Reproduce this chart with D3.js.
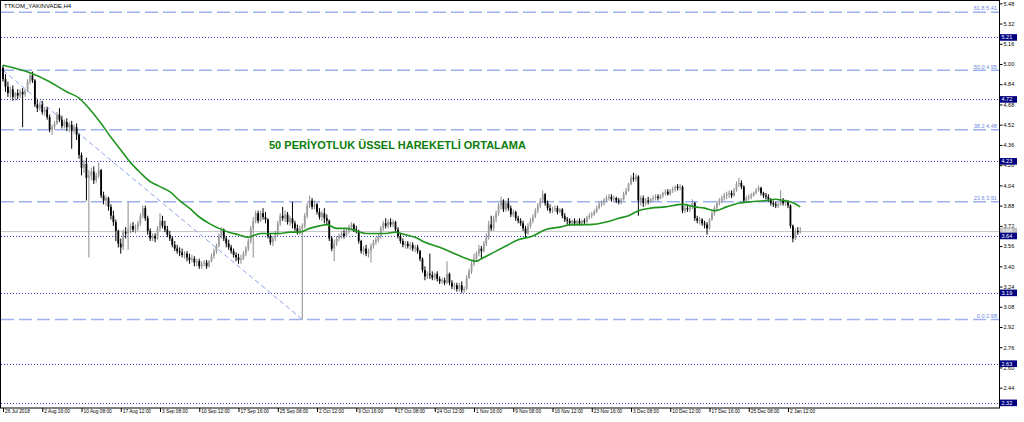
<!DOCTYPE html>
<html><head><meta charset="utf-8">
<script src="https://cdn.jsdelivr.net/npm/d3@7"></script>
<style>html,body{margin:0;padding:0;background:#fff;}svg{display:block;}</style>
</head><body>
<svg id="c" width="1024" height="422"></svg>
<script>
// ---------------- DATA (prices in kuruş, i.e. TRY x 100) ----------------
const symbolTitle = "TTKOM_YAKINVADE,H4";
const annotation = "50 PERİYOTLUK ÜSSEL HAREKETLİ ORTALAMA";

const opens = [
497,488,482,477,480,474,477,475,478,476, 479,486,491,487,468,465,468,462,464,458,
448,450,453,460,456,451,454,450,452,447, 450,444,428,418,421,410,412,415,408,412,
416,396,392,394,387,380,375,368,358,355, 367,366,369,372,369,371,374,380,386,378,
368,362,364,362,370,376,372,369,365,362, 357,354,352,351,349,350,347,345,346,343,
344,340,342,343,340,344,348,352,356,364, 369,362,358,355,352,349,347,345,346,350,
354,360,370,376,382,376,382,379,377,364, 359,362,366,374,380,378,381,375,378,374,
370,367,370,372,380,388,392,387,389,383, 379,382,378,376,362,354,358,362,364,366,
364,368,371,373,369,368,360,352,354,350, 352,356,359,361,364,370,374,372,375,373,
375,369,364,360,357,358,356,357,354,355, 352,346,337,332,334,333,331,334,330,328,
329,327,334,327,324,325,322,325,321,322, 331,336,342,346,350,354,352,358,363,373,
370,378,382,388,392,385,390,386,381,383, 378,376,374,370,366,372,376,379,384,388,
392,397,390,386,384,385,386,383,385,380, 377,376,374,376,374,376,374,376,375,379,
380,381,383,386,389,390,392,394,395,393, 394,392,391,393,397,400,405,410,409,411,
392,394,390,392,391,393,394,395,394,396, 398,399,397,400,401,403,402,403,384,386,
385,387,390,378,376,377,374,373,370,377, 382,386,390,392,394,396,397,398,396,400,
405,406,403,392,394,395,396,398,400,402, 398,396,395,393,390,389,388,389,392,390,
391,388,372,362,368,367];
const highs = [
499,492,486,482,483,478,480,480,481,480, 488,493,494,488,472,470,471,466,466,460,
452,455,462,465,459,456,457,454,455,452, 453,445,430,424,426,416,418,419,414,422,
417,399,396,395,389,384,377,369,362,369, 371,391,374,375,373,376,382,388,388,380,
370,366,366,372,382,380,376,372,368,364, 360,357,355,354,352,352,350,349,348,346,
346,344,345,345,345,350,354,358,366,371, 370,364,361,357,354,351,350,349,352,356,
362,372,379,384,384,384,386,383,378,366, 364,368,376,382,387,384,383,380,391,376,
373,372,374,382,390,396,394,392,390,386, 384,386,381,377,364,361,364,366,368,369,
370,373,375,374,372,369,361,356,357,354, 358,361,363,366,372,376,378,377,378,377,
376,371,366,362,360,360,359,359,357,357, 353,347,340,336,350,336,335,336,332,331,
331,344,335,329,327,327,327,328,324,333, 338,344,350,352,357,356,360,366,376,380,
380,384,390,395,393,392,394,388,385,384, 380,378,376,372,374,378,381,386,390,394,
400,398,392,389,387,388,388,386,386,382, 379,378,377,378,377,378,377,378,380,382,
383,385,388,391,392,394,396,397,397,396, 395,394,394,399,402,406,412,414,413,412,
396,396,394,395,394,396,397,397,397,399, 401,401,401,403,404,405,405,404,388,389,
389,393,391,380,379,378,376,375,378,384, 388,392,394,396,398,399,400,400,402,407,
410,408,404,396,397,398,399,402,404,403, 399,398,397,394,392,391,390,400,394,393,
392,389,373,370,371,371];
const lows = [
486,478,474,473,471,471,472,473,450,474, 478,484,485,466,462,463,460,459,456,446,
444,448,452,454,449,449,447,446,433,445, 440,425,412,414,392,347,408,405,406,410,
394,389,388,384,377,372,360,355,350,353, 362,353,366,367,366,368,372,378,376,365,
360,360,359,361,368,370,367,363,360,355, 352,350,348,347,346,344,342,343,340,340,
338,338,340,338,339,343,346,350,355,362, 360,355,353,350,347,344,342,342,345,348,
352,358,347,374,374,375,377,374,362,357, 356,360,364,372,376,375,373,372,370,368,
365,365,298,370,378,386,385,385,381,377, 376,374,373,360,352,344,356,360,362,362,
363,366,369,367,366,358,350,349,348,347, 343,354,357,359,362,368,370,370,371,371,
367,362,358,355,354,354,353,352,351,350, 344,335,329,330,330,329,329,328,326,326,
325,326,325,322,321,320,320,319,319,321, 330,334,340,344,348,346,351,356,361,368,
368,375,380,385,383,383,384,379,379,376, 374,372,368,362,365,370,374,378,382,386,
390,388,384,382,382,383,381,382,378,375, 373,372,372,372,372,372,372,373,374,377,
378,380,382,385,387,388,391,392,391,391, 390,389,389,392,396,399,404,407,407,380,
388,387,388,389,390,391,392,392,393,394, 396,396,396,398,399,400,400,382,382,383,
383,385,376,374,373,372,370,365,369,376, 380,384,388,390,392,393,394,394,395,399,
403,401,390,390,392,393,395,397,399,396, 394,393,391,388,387,386,386,388,388,388,
386,370,359,361,365,366];
const closes = [
488,482,477,480,474,477,475,478,476,479, 486,491,487,468,465,468,462,464,458,448,
450,453,460,456,451,454,450,452,447,450, 444,428,418,421,410,412,415,408,412,416,
396,392,394,387,380,375,368,358,355,367, 366,369,372,369,371,374,380,386,378,368,
362,364,362,370,376,372,369,365,362,357, 354,352,351,349,350,347,345,346,343,344,
340,342,343,340,344,348,352,356,364,369, 362,358,355,352,349,347,345,346,350,354,
360,370,376,382,376,382,379,377,364,359, 362,366,374,380,378,381,375,378,374,370,
367,370,372,380,388,392,387,389,383,379, 382,378,376,362,354,358,362,364,366,364,
368,371,373,369,368,360,352,354,350,352, 356,359,361,364,370,374,372,375,373,375,
369,364,360,357,358,356,357,354,355,352, 346,337,332,334,333,331,334,330,328,329,
327,334,327,324,325,322,325,321,322,331, 336,342,346,350,354,352,358,363,373,370,
378,382,388,392,385,390,386,381,383,378, 376,374,370,366,372,376,379,384,388,392,
397,390,386,384,385,386,383,385,380,377, 376,374,376,374,376,374,376,375,379,380,
381,383,386,389,390,392,394,395,393,394, 392,391,393,397,400,405,410,409,411,392,
394,390,392,391,393,394,395,394,396,398, 399,397,400,401,403,402,403,384,386,385,
387,390,378,376,377,374,373,370,377,382, 386,390,392,394,396,397,398,396,400,405,
406,403,392,394,395,396,398,400,402,398, 396,395,393,390,389,388,389,392,390,391,
388,372,362,368,367,368];

// 50-period EMA at these bar positions
const emaBars = [0,11,19,26,31,35,40,44,48,52,56,60,64,68,72,76,80,84,88,92,
  96,100,105,109,113,117,121,125,129,132,136,140,144,148,152,156,160,164,168,172,
  178,183,189,193,195,199,205,210,216,221,227,232,239,246,251,255,259,264,270,277,
  282,286,290,295,300,305,311,315,318,321,325];
const emaValues = [4.99,4.93,4.86,4.78,4.73,4.65,4.53,4.42,4.32,4.22,4.14,4.07,4.03,3.99,3.92,3.86,3.79,3.74,3.70,3.67,
  3.65,3.63,3.66,3.66,3.66,3.67,3.67,3.70,3.72,3.73,3.70,3.70,3.68,3.66,3.66,3.66,3.67,3.65,3.63,3.59,
  3.55,3.51,3.46,3.44,3.46,3.50,3.56,3.61,3.64,3.69,3.71,3.73,3.73,3.75,3.78,3.80,3.84,3.86,3.87,3.89,
  3.87,3.86,3.84,3.87,3.90,3.91,3.92,3.93,3.92,3.91,3.87];

const timeLabels = ["26 Jul 2018","2 Aug 16:00","10 Aug 08:00","17 Aug 12:00","3 Sep 08:00","10 Sep 12:00",
  "17 Sep 16:00","25 Sep 08:00","2 Oct 12:00","9 Oct 16:00","17 Oct 08:00","24 Oct 12:00","1 Nov 16:00",
  "9 Nov 08:00","16 Nov 12:00","23 Nov 16:00","3 Dec 08:00","10 Dec 12:00","17 Dec 16:00","25 Dec 08:00","2 Jan 12:00"];
const barsPerLabel = 16;
const priceTicks = [5.48,5.32,5.16,5.00,4.84,4.68,4.52,4.36,4.20,4.04,3.88,3.72,3.56,3.40,3.24,3.08,2.92,2.76,2.60,2.44];

const fibRatios = ["0.0","23.6","38.2","50.0","61.8"];
const fibPrices = [2.98,3.91,4.48,4.95,5.41];
const fibTrendBars = [0,122];
const fibTrendPrices = [4.95,2.98];
const levelPrices = [5.21,4.72,4.23,3.64,3.19,2.63,2.32];

// ---------------- DRAWING ----------------
const FONT = "'Liberation Sans', Arial, sans-serif";
const svg = d3.select("#c");
const R = 999, B = 408;
const x = d3.scaleLinear().domain([0, 320]).range([3, 788]);
const y = d3.scaleLinear().domain([2.44, 5.48]).range([387.7, 3.3]);
const k = v => v / 100;
const bars = closes.map((c, i) => ({i, o: k(opens[i]), h: k(highs[i]), l: k(lows[i]), c: k(c)}));
const crisp = v => Math.round(v) + 0.5;

svg.append("defs").append("clipPath").attr("id", "clip")
  .append("rect").attr("x", 1).attr("y", 1).attr("width", R - 1).attr("height", B - 1);
const g = svg.append("g").attr("clip-path", "url(#clip)");

// horizontal dotted support/resistance levels
g.selectAll(".lvl").data(levelPrices).join("line")
  .attr("x1", 1).attr("x2", R).attr("y1", d => crisp(y(d))).attr("y2", d => crisp(y(d)))
  .attr("stroke", "#4040c8").attr("stroke-width", 1).attr("stroke-dasharray", "1,2");

// fibonacci levels (dashed)
g.selectAll(".fib").data(fibPrices).join("line")
  .attr("x1", 1).attr("x2", R).attr("y1", d => y(d)).attr("y2", d => y(d))
  .attr("stroke", "#9eb1f0").attr("stroke-width", 1.5).attr("stroke-dasharray", "13,5");

// current price line
const last = bars[bars.length - 1].c;
g.append("line").attr("x1", 1).attr("x2", R).attr("y1", crisp(y(last))).attr("y2", crisp(y(last)))
  .attr("stroke", "#c8c8c8").attr("stroke-width", 1);

// fibonacci trend line
g.append("line")
  .attr("x1", x(fibTrendBars[0])).attr("y1", y(fibTrendPrices[0]))
  .attr("x2", x(fibTrendBars[1])).attr("y2", y(fibTrendPrices[1]))
  .attr("stroke", "#8ea4ec").attr("stroke-width", 1).attr("stroke-dasharray", "5,3");

// candles
const up = d => d.c >= d.o;
g.selectAll(".wick").data(bars).join("line")
  .attr("x1", d => x(d.i)).attr("x2", d => x(d.i))
  .attr("y1", d => y(d.h)).attr("y2", d => y(d.l))
  .attr("stroke", d => up(d) ? "#8c8c8c" : "#000").attr("stroke-width", 1);
g.selectAll(".body").data(bars).join("rect")
  .attr("x", d => x(d.i) - 0.9).attr("width", 1.8)
  .attr("y", d => y(Math.max(d.o, d.c)))
  .attr("height", d => Math.max(0.8, Math.abs(y(d.o) - y(d.c))))
  .attr("fill", d => up(d) ? "#9c9c9c" : "#000");

// EMA line
const ema = emaBars.map((b, i) => [b, emaValues[i]]);
g.append("path").datum(ema)
  .attr("d", d3.line().x(d => x(d[0])).y(d => y(d[1])).curve(d3.curveMonotoneX))
  .attr("fill", "none").attr("stroke", "#1f941f").attr("stroke-width", 1.6);

// fib labels
svg.selectAll(".fibl").data(fibPrices).join("text")
  .attr("x", 997).attr("y", d => y(d) - 1.8).attr("text-anchor", "end")
  .attr("font-family", FONT).attr("font-size", 5.6).attr("fill", "#6f88df")
  .text((d, i) => fibRatios[i] + " " + d.toFixed(2));

// frame
svg.append("rect").attr("x", 0.5).attr("y", 0.5).attr("width", R).attr("height", B - 0.5)
  .attr("fill", "none").attr("stroke", "#000").attr("stroke-width", 1);

// price axis
const yAxis = d3.axisRight(y).tickValues(priceTicks).tickFormat(d3.format(".2f"))
  .tickSizeInner(3).tickSizeOuter(0).tickPadding(1);
const gy = svg.append("g").attr("transform", `translate(${R + 0.5},0)`).call(yAxis);
gy.select(".domain").remove();
gy.attr("font-family", FONT).attr("font-size", 5.5);
gy.selectAll("text").attr("fill", "#000");

// current price tag
const tag = svg.append("g");
tag.append("rect").attr("x", 1000).attr("y", y(last) - 3.3).attr("width", 17).attr("height", 6.6).attr("fill", "#c0c0c0");
tag.append("text").attr("x", 1001.5).attr("y", y(last) + 2).attr("font-family", FONT).attr("font-size", 5.5)
  .attr("fill", "#fff").text(last.toFixed(2));

// level tags
const tags = svg.selectAll(".ltag").data(levelPrices).join("g");
tags.append("rect").attr("x", 1000).attr("y", d => y(d) - 3.3).attr("width", 17).attr("height", 6.6).attr("fill", "#000080");
tags.append("text").attr("x", 1001.5).attr("y", d => y(d) + 2).attr("font-family", FONT).attr("font-size", 5.5)
  .attr("fill", "#fff").text(d => d.toFixed(2));

// time axis
const xAxis = d3.axisBottom(x).tickValues(timeLabels.map((_, j) => j * barsPerLabel))
  .tickFormat((d, j) => timeLabels[j]).tickSizeInner(4).tickSizeOuter(0);
const gx = svg.append("g").attr("transform", `translate(0,${B})`).call(xAxis);
gx.select(".domain").remove();
gx.attr("font-family", FONT).attr("font-size", 4.8);
gx.selectAll("text").attr("text-anchor", "start").attr("x", 1.5).attr("y", 1.6).attr("dy", "0.71em").attr("fill", "#000");

// title
svg.append("text").attr("x", 4).attr("y", 8).attr("font-family", FONT).attr("font-size", 6)
  .attr("fill", "#000").text(symbolTitle);

// annotation
svg.append("text").attr("x", 269).attr("y", 148.5).attr("font-family", FONT).attr("font-size", 11)
  .attr("font-weight", "bold").attr("fill", "#0c7c0c").text(annotation);
</script>
</body></html>
